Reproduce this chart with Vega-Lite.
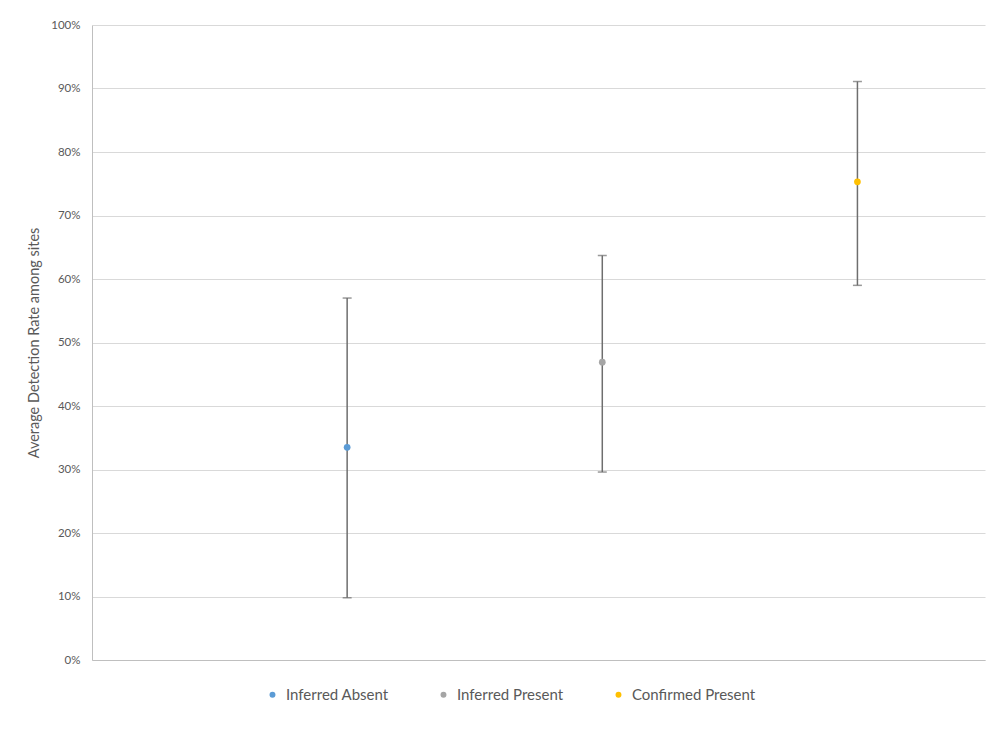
{
  "$schema": "https://vega.github.io/schema/vega-lite/v6.json",
  "width": 893,
  "height": 635,
  "autosize": {"type": "none"},
  "padding": {"left": 92, "top": 25, "right": 16, "bottom": 72},
  "background": "white",
  "config": {
    "view": {"stroke": null},
    "font": "Lato"
  },
  "data": {
    "values": [
      {"group": "Inferred Absent", "pos": 1, "rate": 0.335, "lo": 0.098, "hi": 0.570},
      {"group": "Inferred Present", "pos": 2, "rate": 0.469, "lo": 0.296, "hi": 0.637},
      {"group": "Confirmed Present", "pos": 3, "rate": 0.753, "lo": 0.590, "hi": 0.911}
    ]
  },
  "encoding": {
    "x": {
      "field": "pos", "type": "quantitative",
      "scale": {"domain": [0, 3.5], "nice": false, "zero": true},
      "axis": {"labels": false, "ticks": false, "grid": false, "title": null, "domain": true, "domainColor": "#bfbfbf", "domainWidth": 1}
    }
  },
  "layer": [
    {
      "mark": {"type": "rule", "color": "#6e6e6e", "strokeWidth": 1.5},
      "encoding": {
        "y": {
          "field": "lo", "type": "quantitative",
          "scale": {"domain": [0, 1], "nice": false},
          "axis": {
            "format": ".0%", "values": [0, 0.1, 0.2, 0.3, 0.4, 0.5, 0.6, 0.7, 0.8, 0.9, 1],
            "ticks": false, "labelPadding": 12, "labelFontSize": 11.5, "labelColor": "#595959",
            "gridColor": "#d9d9d9", "domainColor": "#bfbfbf",
            "title": "Average Detection Rate among sites", "titleFontSize": 14.5, "titleFontWeight": "normal",
            "titleColor": "#595959", "titlePadding": 9
          }
        },
        "y2": {"field": "hi"}
      }
    },
    {
      "mark": {"type": "tick", "orient": "horizontal", "color": "#6e6e6e", "size": 9, "thickness": 1.5},
      "encoding": {"y": {"field": "lo", "type": "quantitative"}}
    },
    {
      "mark": {"type": "tick", "orient": "horizontal", "color": "#6e6e6e", "size": 9, "thickness": 1.5},
      "encoding": {"y": {"field": "hi", "type": "quantitative"}}
    },
    {
      "mark": {"type": "point", "filled": true, "opacity": 1, "size": 45, "shape": "circle"},
      "encoding": {
        "y": {"field": "rate", "type": "quantitative"},
        "color": {
          "field": "group", "type": "nominal",
          "scale": {"domain": ["Inferred Absent", "Inferred Present", "Confirmed Present"], "range": ["#5B9BD5", "#A5A5A5", "#FFC000"]},
          "legend": {
            "title": null, "orient": "none", "direction": "horizontal",
            "legendX": 173, "legendY": 662, "padding": 0,
            "symbolType": "circle", "symbolSize": 35, "symbolStrokeWidth": 0,
            "labelFontSize": 15, "labelColor": "#595959", "labelOffset": 6,
            "columnPadding": 47, "labelLimit": 300
          }
        }
      }
    }
  ]
}
